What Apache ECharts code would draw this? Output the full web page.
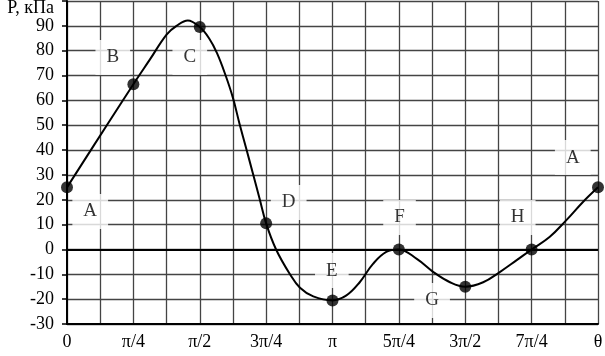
<!DOCTYPE html>
<html><head><meta charset="utf-8">
<script src="https://cdn.jsdelivr.net/npm/echarts@6/dist/echarts.min.js"></script>
<style>html,body{margin:0;padding:0;background:#fff}#c{width:605px;height:356px}</style>
</head><body><div id="c"></div>
<script>
// x measured in units of pi/4
var xTickLabels = ['0','π/4','π/2','3π/4','π','5π/4','3π/2','7π/4','θ'];
// marked points A..H
var pointX = [0,1,2,3,4,5,6,7,8];
var pointP = [25,66.5,89.5,10.5,-20.5,0,-15,0,25];
// curve
var curveX = [0,0.6,1,1.25,1.5,1.65,1.82,2,2.14,2.26,2.39,2.5,2.6,2.7,2.8,2.9,3,3.15,3.36,3.51,3.71,4,4.21,4.41,4.61,4.81,5,5.27,5.52,5.77,6,6.27,6.52,6.77,7,7.27,7.52,7.77,8];
var curveP = [25,50,66.5,76.5,86.5,90,92.2,89.5,85,79,70,61,50.5,40.6,30.7,20.6,10.5,0,-10,-15.4,-18.9,-20.5,-18.5,-13.2,-5.8,-1,0,-3.8,-9.1,-13.2,-15,-13.2,-9.1,-4.4,0,5,11.7,19,25];
var labelNames = ['A','B','C','D','E','F','G','H','A'];
var labelX = [0.35,0.69,1.85,3.34,3.99,5.01,5.5,6.79,7.62];
var labelY = [15.3,77.3,77.3,18.9,-8.5,12.9,-20.5,12.9,37];
var yAxisTitle = 'P, кПа';

var font = '"Liberation Serif", "DejaVu Serif", serif';
var chart = echarts.init(document.getElementById('c'));
chart.setOption({
  animation:false,
  grid:{left:67,right:7,top:1,bottom:32,containLabel:false,outerBoundsMode:'none'},
  xAxis:{type:'value',min:0,max:8,interval:0.5,
    axisLine:{onZero:false,lineStyle:{color:'#000',width:2}},
    axisTick:{show:false},
    splitLine:{show:true,lineStyle:{color:'#444',width:1.3}},
    axisLabel:{margin:9,color:'#000',fontFamily:font,fontSize:18,showMaxLabel:true,showMinLabel:true,
      formatter:function(v){return Math.abs(v-Math.round(v))<1e-6?xTickLabels[Math.round(v)]:'';}}
  },
  yAxis:{type:'value',min:-30,max:100,interval:10,
    name:yAxisTitle,nameLocation:'end',nameGap:-10,
    nameTextStyle:{color:'#000',fontFamily:font,fontSize:18,align:'right',verticalAlign:'middle',padding:[0,13,0,0]},
    axisLine:{show:true,lineStyle:{color:'#000',width:2}},
    axisTick:{show:true,inside:false,length:5,lineStyle:{color:'#000',width:1.5}},
    splitLine:{show:true,lineStyle:{color:'#444',width:1.3}},
    axisLabel:{margin:13,color:'#000',fontFamily:font,fontSize:18,
      formatter:function(v){return v===100?'':String(v);}}
  },
  series:[
    {type:'line',data:curveX.map(function(x,i){return [x,curveP[i]];}),
     smooth:0.4,symbol:'none',
     lineStyle:{color:'#000',width:2},
     markLine:{silent:true,symbol:'none',label:{show:false},
       lineStyle:{color:'#000',width:2,type:'solid'},data:[{yAxis:0}]},
     z:5},
    {type:'scatter',symbol:'circle',symbolSize:12,z:6,itemStyle:{color:'#000'},
     data:pointX.map(function(x,i){return [x,pointP[i]];})},
    {type:'scatter',symbolSize:0,z:4,
     data:labelX.map(function(x,i){return {value:[x,labelY[i]],name:labelNames[i]};}),
     label:{show:true,position:'inside',formatter:'{b}',color:'#000',fontFamily:font,fontSize:19,
       backgroundColor:'#fff',padding:[9,11,7,11]}}
  ]
});
</script></body></html>
